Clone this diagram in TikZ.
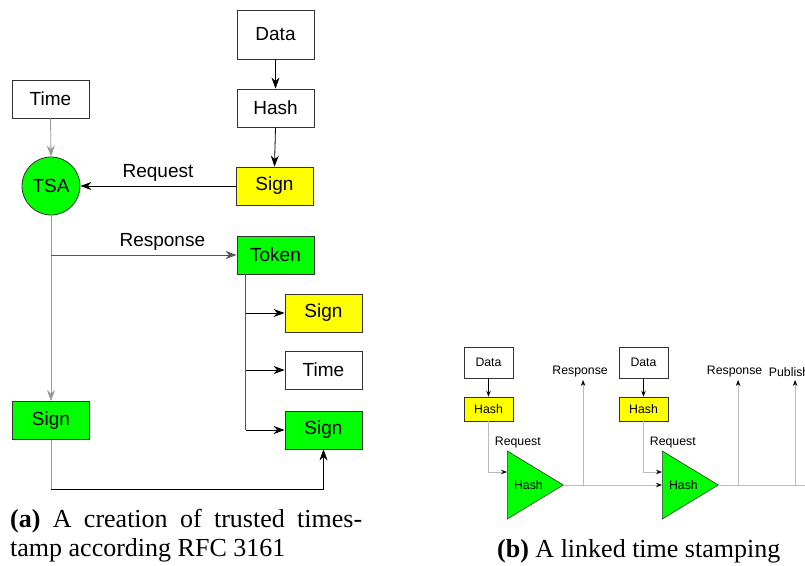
\documentclass[tikz,border=0pt]{standalone}
\usepackage{fontspec}
\setmainfont{Liberation Serif}
\setsansfont{Liberation Sans}
\usetikzlibrary{arrows.meta,shapes.geometric,calc}
\definecolor{couleurbackgren}{HTML}{00FF00}
\definecolor{couleurbackyell}{HTML}{FFFF00}
\definecolor{couleurbord}{HTML}{333333}
\definecolor{couleurgris}{HTML}{999999}
\definecolor{couleurmoyen}{HTML}{555555}
\definecolor{couleurclair}{HTML}{BBBBBB}
\newcommand{\lienvtbs}[2]{\draw[lien] (#1.south) -- (#2.north);}
\newcommand{\lienbras}[2]{\draw[lien] (#1 |- #2.west) -- (#2.west);}
\tikzset{
		basic/.style={draw=couleurbord, line width=0.8pt, minimum width=77pt, minimum height=38pt, inner sep=0pt, font=\sffamily\fontsize{19}{22}\selectfont},
		signe/.style={basic, fill=couleurbackyell},
		valid/.style={basic, fill=couleurbackgren},
		autor/.style={basic, circle, minimum size=58pt, fill=couleurbackgren},
		petit/.style={basic, line width=0.6pt, minimum width=49pt, minimum height=24pt, font=\sffamily\fontsize{12.3}{14}\selectfont},
		pompe/.style={petit, isosceles triangle, isosceles triangle stretches, minimum width=68pt, minimum height=56pt, fill=couleurbackgren, anchor=lower side},
		etiq/.style={inner sep=4pt, font=\sffamily\fontsize{19}{22}\selectfont},
		etiqpetit/.style={inner sep=3pt, font=\sffamily\fontsize{12.3}{14}\selectfont},
		legende/.style={inner sep=0pt, font=\fontsize{26}{29}\selectfont},
		lien/.style={-{Stealth[length=11pt,width=8pt,inset=3.5pt]}, line width=0.8pt},
		liengris/.style={lien, draw=couleurgris},
		lienmoyen/.style={lien, draw=couleurmoyen},
		lienclair/.style={-{Stealth[length=6pt,width=4.5pt,inset=2pt,color=black]}, line width=0.8pt, draw=couleurclair}
	}
\begin{document}
\begin{tikzpicture}[x=1pt, y=-1pt]
		\clip (0,0) rectangle (805,565);
		% (a) request
		\node[basic, minimum height=49pt] (datareq) at (275.5,34.5) {Data};
		\node[basic] (hashreq) at (275.5,108) {Hash};
		\node[signe] (signreq) at (274.5,186) {Sign};
		\node[basic] (timetsa) at (50.5,99) {Time};
		\node[autor] (tsa) at (51,186) {TSA};
		% (a) response
		\node[valid] (token) at (275.5,255) {Token};
		\node[signe] (signtokn) at (323.5,313) {Sign};
		\node[basic] (timetokn) at (323.5,370) {Time};
		\node[valid] (signvrfy) at (323.5,430) {Sign};
		\node[valid] (signtsa) at (51,420.5) {Sign};
		
		% Liens
		\lienvtbs{datareq}{hashreq}
		\lienvtbs{hashreq}{signreq}
		\draw[lien] (signreq.west) -- node[etiq, above] (request) {Request} (tsa.east);
		\draw[liengris] (timetsa.south) -- (tsa.north);
		\draw[liengris] (tsa.south) -- (signtsa.north);
		\draw[lienmoyen] (tsa.south |- token.west) -- node[etiq, above, pos=0.6] (response) {Response} (token.west);
		
		\coordinate (tokbus) at ([xshift=9pt]token.south west);
		\draw[couleurmoyen, line width=0.8pt] (tokbus) -- (tokbus |- signvrfy.west);
		\lienbras{tokbus}{signtokn}
		\lienbras{tokbus}{timetokn}
		\lienbras{tokbus}{signvrfy}
		
		\draw[couleurgris, line width=0.8pt] (signtsa.south) -- ++(0,49) coordinate (coin);
		\draw[lien] (coin) -| (signvrfy.south);
		
		% (b) chain
		\node[petit, minimum height=31pt] (datach1) at (488.5,362.5) {Data};
		\node[petit, fill=couleurbackyell] (hashch1) at (488.5,409) {Hash};
		\node[pompe] (hashtr1) at (507,485) {Hash};
		\node[petit, minimum height=31pt] (datach2) at (643.5,362.5) {Data};
		\node[petit, fill=couleurbackyell] (hashch2) at (643.5,409) {Hash};
		\node[pompe] (hashtr2) at (662,485) {Hash};
		
		\draw[lienclair, draw=black] (datach1.south) -- (hashch1.north);
		\draw[lienclair, draw=black] (datach2.south) -- (hashch2.north);
		\draw[lienclair] (hashch1.south) |- node[etiqpetit, pos=0.21, right, xshift=3pt] (reqch1) {Request} ($(hashtr1.lower side)+(0,-13)$);
		\draw[lienclair] (hashch2.south) |- node[etiqpetit, pos=0.21, right, xshift=3pt] (reqch2) {Request} ($(hashtr2.lower side)+(0,-13)$);
		\draw[lienclair] (hashtr1.apex) -- (hashtr1.apex -| hashtr2.lower side);
		\draw[lienclair] (hashtr2.apex) -- ++(100,0);
		
		\draw[lienclair] ([xshift=19pt]hashtr1.apex) -- ++(0,-105) node[etiqpetit, above, xshift=-3pt] (respch1) {Response};
		\draw[lienclair] ([xshift=19pt]hashtr2.apex) -- ++(0,-105) node[etiqpetit, above, xshift=-3.5pt] (respch2) {Response};
		\draw[lienclair] ([xshift=76pt]hashtr2.apex) -- ++(0,-105) node[etiqpetit, above, xshift=-6pt] (publish) {Publish};
		
		% legendes
		\node[legende, text width=352pt, align=justify, anchor=north west] (legenda) at (10,509) {\textbf{(a)} A creation of trusted times-\linebreak tamp according RFC 3161};
		\node[legende, anchor=base west] (legendb) at (497,557) {\textbf{(b)} A linked time stamping};
	\end{tikzpicture}
\end{document}
